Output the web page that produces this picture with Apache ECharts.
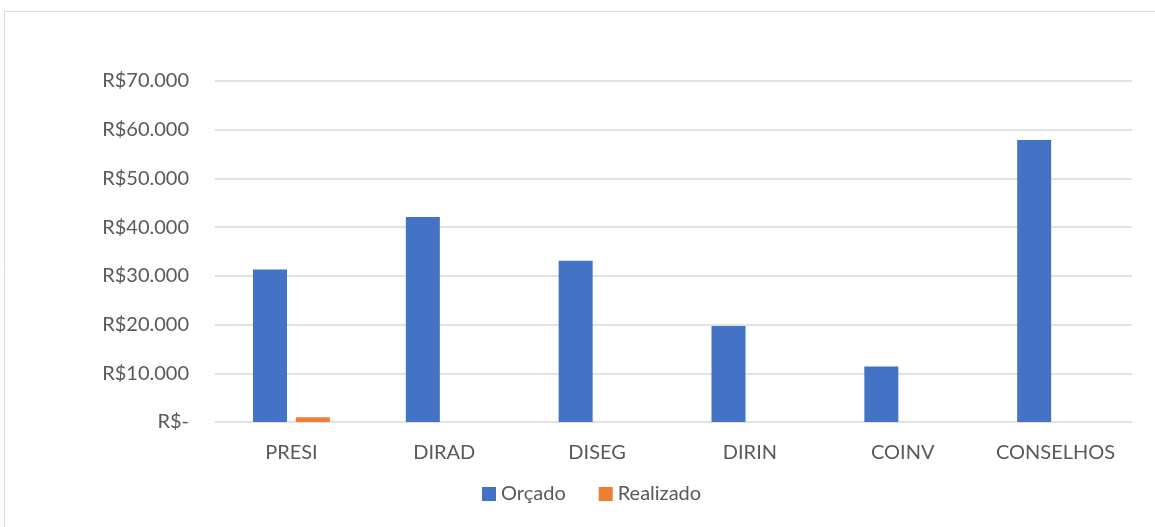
<!DOCTYPE html>
<html>
<head>
<meta charset="utf-8">
<script src="https://cdn.jsdelivr.net/npm/echarts@6/dist/echarts.min.js"></script>
<style>
  html, body { margin: 0; padding: 0; background: #fff; }
  #chart { width: 1155px; height: 527px; }
</style>
</head>
<body>
<div id="chart"></div>
<script>
const categories = ['PRESI', 'DIRAD', 'DISEG', 'DIRIN', 'COINV', 'CONSELHOS']
const orcado = [31300, 42100, 33100, 19700, 11400, 57900]
const realizado = [1000, 0, 0, 0, 0, 0]

const fontFamily = 'Lato, "Open Sans", sans-serif'
const textColor = '#595959'

const formatReal = function (value) {
    if (value === 0) return 'R$-'
    return 'R$' + value.toString().replace(/\B(?=(\d{3})+(?!\d))/g, '.')
}

const myChart = echarts.init(document.getElementById('chart'))

myChart.setOption({
    animation: false,
    graphic: [
        {
            type: 'rect',
            shape: { x: 4.5, y: 11.5, width: 1200, height: 600 },
            style: { fill: 'none', stroke: '#d9d9d9', lineWidth: 1 },
            silent: true
        }
    ],
    grid: {
        top: 81,
        left: 215,
        right: 23,
        bottom: 105
    },
    legend: {
        bottom: 18,
        left: 477,
        itemWidth: 14,
        itemHeight: 14,
        itemGap: 33,
        icon: 'rect',
        textStyle: {
            fontFamily: fontFamily,
            fontSize: 20,
            color: textColor
        },
        data: ['Orçado', 'Realizado']
    },
    xAxis: {
        type: 'category',
        data: categories,
        axisLine: { show: false },
        axisTick: { show: false },
        axisLabel: {
            interval: 0,
            fontFamily: fontFamily,
            fontSize: 20,
            color: textColor,
            margin: 21
        }
    },
    yAxis: {
        type: 'value',
        min: 0,
        max: 70000,
        interval: 10000,
        axisLine: { show: false },
        axisTick: { show: false },
        axisLabel: {
            fontFamily: fontFamily,
            fontSize: 20,
            color: textColor,
            margin: 26,
            formatter: formatReal
        },
        splitLine: {
            show: true,
            lineStyle: { color: '#d9d9d9', width: 1.5 }
        }
    },
    series: [
        {
            name: 'Orçado',
            type: 'bar',
            barWidth: 34,
            barGap: '26%',
            data: orcado,
            itemStyle: { color: '#4472c4' }
        },
        {
            name: 'Realizado',
            type: 'bar',
            barWidth: 34,
            data: realizado,
            itemStyle: { color: '#ed7d31' }
        }
    ]
})
</script>
</body>
</html>
